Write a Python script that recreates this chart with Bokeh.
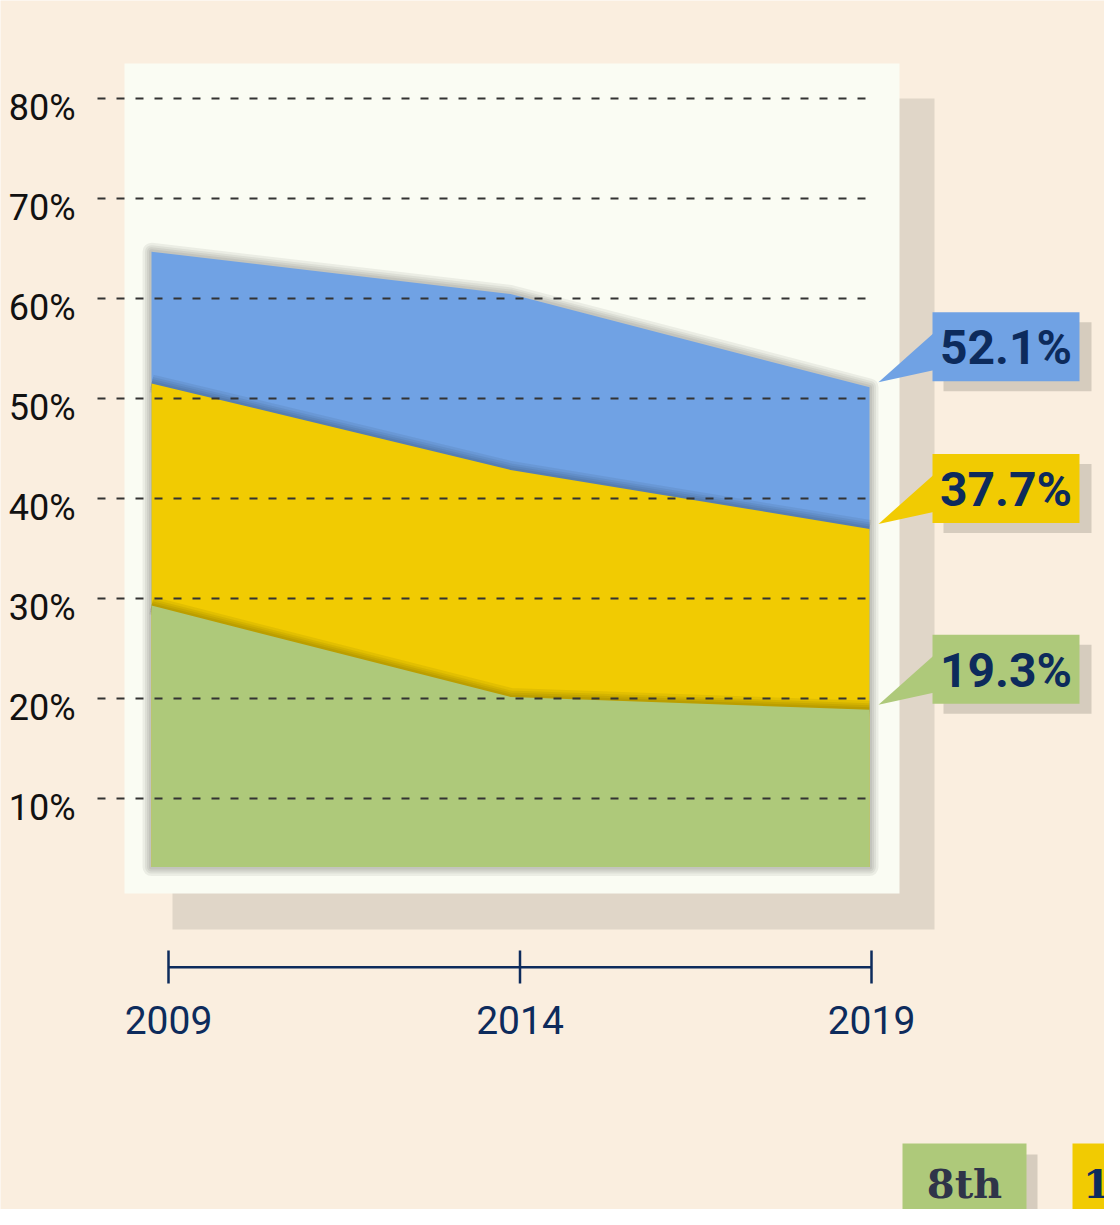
from bokeh.plotting import figure
from bokeh.models import Range1d
from bokeh.core.properties import value
from bokeh.embed import file_html
from bokeh.resources import INLINE

# ---------------- data ----------------
years = [2009, 2014, 2019]
year_labels = ["2009", "2014", "2019"]
grade12 = [65.9, 61.6, 52.1]   # blue
grade10 = [52.5, 43.7, 37.7]   # yellow
grade8 = [29.9, 20.6, 19.3]    # green
area_floor = 3.3
end_labels = ["52.1%", "37.7%", "19.3%"]
y_ticks = [10, 20, 30, 40, 50, 60, 70, 80]
y_tick_labels = ["10%", "20%", "30%", "40%", "50%", "60%", "70%", "80%"]
legend_names = ["8th", "10th"]

# ---------------- style ----------------
BG = "#FAEEDF"
PANEL = "#FAFCF3"
PANEL_SHADOW = "#E0D6C8"
CALLOUT_SHADOW = "#D6CCBE"
NAVY = "#0D2B5C"
BLUE = "#70A2E4"
YELLOW = "#F1CB02"
GREEN = "#AEC97A"

W, H = 1104, 1209

# main scales (axis / grid)
X0_PX, X_PER_YR = 168.0, 70.3
Y0_PX, Y_PER_PCT = 311.0, 10.0
# area scales
AX0_PX, AX_PER_YR = 151.0, 71.8
AY0_PX, AY_PER_PCT = 310.0, 9.83

p = figure(width=W, height=H, output_backend="svg", toolbar_location=None,
           x_axis_type=None, y_axis_type=None, min_border=0,
           x_range=Range1d(2009 - X0_PX / X_PER_YR, 2009 + (W - X0_PX) / X_PER_YR),
           y_range=Range1d(-Y0_PX / Y_PER_PCT, (H - Y0_PX) / Y_PER_PCT))
p.extra_x_ranges = {"px": Range1d(0, W),
                    "ax": Range1d(2009 - AX0_PX / AX_PER_YR, 2009 + (W - AX0_PX) / AX_PER_YR)}
p.extra_y_ranges = {"px": Range1d(H, 0),
                    "ay": Range1d(-AY0_PX / AY_PER_PCT, (H - AY0_PX) / AY_PER_PCT)}
p.background_fill_color = BG
p.border_fill_color = BG
p.outline_line_color = None
p.grid.visible = False


def area_top_px(v):
    # top-down pixel of an area value (for callout anchoring)
    return H - (AY0_PX + AY_PER_PCT * v)


# panel and its shadow
p.quad(left=172, right=934, top=98, bottom=929, x_range_name="px", y_range_name="px",
       fill_color=PANEL_SHADOW, line_color=None)
p.quad(left=124, right=899, top=63, bottom=893, x_range_name="px", y_range_name="px",
       fill_color=PANEL, line_color=None)

# areas with soft shadows
series = [(grade12, BLUE), (grade10, YELLOW), (grade8, GREEN)]
for i, (vals, col) in enumerate(series):
    xs = years + years[::-1]
    ys = vals + [area_floor] * len(years)
    for w in [18, 13, 9, 5]:
        if i == 0:
            p.patch(xs, ys, x_range_name="ax", y_range_name="ay", fill_alpha=0,
                    line_color="black", line_alpha=0.06, line_width=w, line_join="round")
        else:
            p.line(years, vals, x_range_name="ax", y_range_name="ay",
                   line_color="black", line_alpha=0.06, line_width=w, line_cap="butt",
                   line_join="round")
    p.patch(xs, ys, x_range_name="ax", y_range_name="ay", fill_color=col, line_color=None)

# dashed gridlines
p.segment(x0=[97] * len(y_ticks), x1=[872] * len(y_ticks), y0=y_ticks, y1=y_ticks,
          x_range_name="px", line_color="#333333", line_width=2, line_dash="8 11")

# y tick labels
p.text(x=[75] * len(y_ticks), y=y_ticks, text=y_tick_labels, x_range_name="px",
       text_align="right", text_baseline="middle", y_offset=9,
       text_font=value("Roboto"), text_font_size="36px", text_color="#111111")

# year axis
p.segment(x0=[years[0]], x1=[years[-1]], y0=[966.7], y1=[966.7], y_range_name="px",
          line_color=NAVY, line_width=2.5)
p.segment(x0=years, x1=years, y0=[950] * 3, y1=[983] * 3, y_range_name="px",
          line_color=NAVY, line_width=2.5)
p.text(x=years, y=[1019] * 3, text=year_labels, y_range_name="px",
       text_align="center", text_baseline="middle",
       text_font=value("Roboto"), text_font_size="39px", text_color=NAVY)

# callouts
for (vals, col), lab in zip(series, end_labels):
    tip = area_top_px(vals[-1]) - 5
    top, bot = tip - 70, tip - 1
    p.quad(left=943, right=1091, top=top + 10, bottom=bot + 10, x_range_name="px",
           y_range_name="px", fill_color=CALLOUT_SHADOW, line_color=None)
    p.patch([878, 933, 933], [tip, tip - 49, tip - 12], x_range_name="px", y_range_name="px",
            fill_color=col, line_color=None)
    p.quad(left=932, right=1079, top=top, bottom=bot, x_range_name="px",
           y_range_name="px", fill_color=col, line_color=None)
    p.text(x=[1005.5], y=[(top + bot) / 2 + 1], text=[lab], x_range_name="px", y_range_name="px",
           text_align="center", text_baseline="middle", text_font=value("Roboto"),
           text_font_style="bold", text_font_size="48px", text_color=NAVY)

# legend boxes (partly off-canvas, as in the original)
legend_cols = [GREEN, YELLOW]
legend_text_cols = ["#2F3449", NAVY]
for k, (name, col, tcol) in enumerate(zip(legend_names, legend_cols, legend_text_cols)):
    left = 902 + k * 170
    p.quad(left=left + 11, right=left + 135, top=1154, bottom=1240, x_range_name="px",
           y_range_name="px", fill_color=CALLOUT_SHADOW, line_color=None)
    p.quad(left=left, right=left + 124, top=1143, bottom=1240, x_range_name="px",
           y_range_name="px", fill_color=col, line_color=None)
    p.text(x=[left + 62], y=[1183], text=[name], x_range_name="px", y_range_name="px",
           text_align="center", text_baseline="middle", text_font=value("DejaVu Serif"),
           text_font_style="bold", text_font_size="40px", text_color=tcol)

open("out.html", "w").write(file_html(p, INLINE))
